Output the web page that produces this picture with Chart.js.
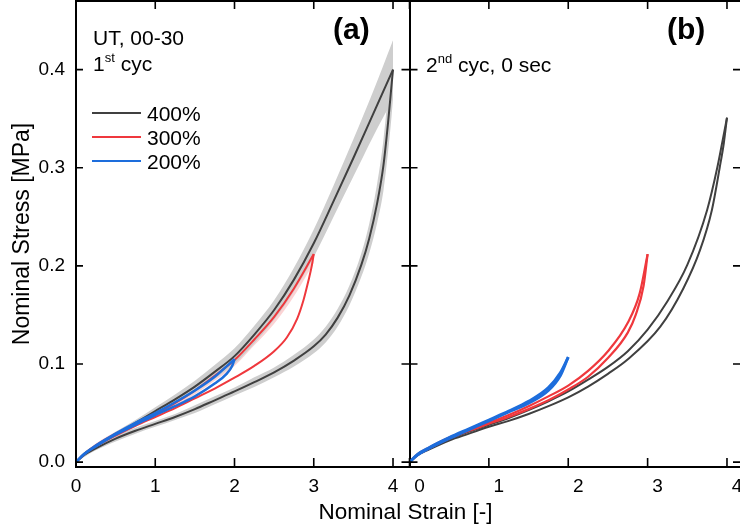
<!DOCTYPE html>
<html>
<head>
<meta charset="utf-8">
<script src="https://cdn.jsdelivr.net/npm/chart.js@4"></script>
<style>
html, body { margin: 0; padding: 0; background: #fff; overflow: hidden; }
#wrap { position: relative; width: 740px; height: 531px; }
#chartA { position: absolute; left: 0; top: 0; }
#chartB { position: absolute; left: 400px; top: 0; }
</style>
</head>
<body>
<div id="wrap">
<canvas id="chartA" width="740" height="531"></canvas>
<canvas id="chartB" width="340" height="531"></canvas>
</div>
<script>
// ---- data (nominal strain [-], nominal stress [MPa]) ----
const seriesLabels = ['400%', '300%', '200%'];
const xTickValues = [0, 1, 2, 3, 4];
const yTickValues = [0, 0.1, 0.2, 0.3, 0.4];

// (a) 1st cycle, mean curves + scatter band
const a400LoadStrain = [0, 0.1, 0.25, 0.5, 0.75, 1.0, 1.25, 1.5, 1.75, 2.0, 2.25, 2.5, 2.75, 3.0, 3.25, 3.5, 3.75, 4.0];
const a400LoadStress = [0, 0.008, 0.016, 0.028, 0.040, 0.052, 0.064, 0.077, 0.092, 0.108, 0.130, 0.155, 0.186, 0.223, 0.266, 0.310, 0.355, 0.400];
const a400LoadHi     = [0.001, 0.010, 0.018, 0.031, 0.043, 0.056, 0.069, 0.083, 0.099, 0.116, 0.139, 0.165, 0.198, 0.237, 0.282, 0.329, 0.378, 0.430];
const a400LoadLo     = [0, 0.006, 0.014, 0.025, 0.037, 0.048, 0.059, 0.071, 0.085, 0.100, 0.121, 0.145, 0.174, 0.209, 0.250, 0.291, 0.332, 0.370];

const a400UnloadStrain = [0, 0.1, 0.25, 0.5, 0.75, 1.0, 1.25, 1.5, 1.75, 2.0, 2.25, 2.5, 2.75, 3.0, 3.15, 3.3, 3.45, 3.6, 3.7, 3.8, 3.88, 3.94, 3.98, 4.0];
const a400UnloadStress = [0, 0.007, 0.014, 0.024, 0.032, 0.039, 0.046, 0.054, 0.063, 0.072, 0.0815, 0.0915, 0.1035, 0.118, 0.130, 0.147, 0.170, 0.201, 0.228, 0.264, 0.303, 0.348, 0.383, 0.400];
const a400UnloadHi     = [0.001, 0.009, 0.016, 0.027, 0.035, 0.042, 0.049, 0.058, 0.067, 0.076, 0.0865, 0.0965, 0.1095, 0.125, 0.138, 0.156, 0.180, 0.213, 0.243, 0.284, 0.329, 0.378, 0.415, 0.430];
const a400UnloadLo     = [0, 0.005, 0.012, 0.021, 0.029, 0.036, 0.043, 0.050, 0.059, 0.068, 0.0765, 0.0865, 0.0975, 0.111, 0.122, 0.138, 0.160, 0.189, 0.213, 0.244, 0.277, 0.318, 0.351, 0.370];

const a300LoadStrain = [0, 0.1, 0.25, 0.5, 0.75, 1.0, 1.25, 1.5, 1.75, 2.0, 2.25, 2.5, 2.75, 3.0];
const a300LoadStress = [0, 0.008, 0.017, 0.029, 0.039, 0.049, 0.060, 0.073, 0.088, 0.104, 0.125, 0.148, 0.177, 0.212];
const a300LoadHi     = [0.001, 0.009, 0.019, 0.031, 0.042, 0.052, 0.064, 0.077, 0.093, 0.110, 0.131, 0.155, 0.185, 0.221];
const a300LoadLo     = [0, 0.007, 0.015, 0.027, 0.036, 0.046, 0.056, 0.069, 0.083, 0.098, 0.119, 0.141, 0.169, 0.203];
const a300UnloadStrain = [0, 0.1, 0.25, 0.5, 0.75, 1.0, 1.25, 1.5, 1.75, 2.0, 2.25, 2.5, 2.66, 2.79, 2.87, 2.93, 2.975, 3.0];
const a300UnloadStress = [0, 0.008, 0.016, 0.027, 0.037, 0.046, 0.055, 0.065, 0.075, 0.086, 0.098, 0.113, 0.127, 0.146, 0.165, 0.184, 0.200, 0.212];

const a200LoadStrain = [0, 0.1, 0.25, 0.5, 0.75, 1.0, 1.25, 1.5, 1.75, 2.0];
const a200LoadStress = [0, 0.008, 0.017, 0.029, 0.040, 0.050, 0.061, 0.073, 0.087, 0.105];
const a200UnloadStrain = [0, 0.1, 0.25, 0.5, 0.75, 1.0, 1.25, 1.5, 1.75, 1.9, 1.97, 2.0];
const a200UnloadStress = [0, 0.008, 0.016, 0.028, 0.038, 0.048, 0.057, 0.067, 0.080, 0.090, 0.098, 0.105];

// (b) 2nd cycle, 0 sec
const b400LoadStrain = [0, 0.1, 0.25, 0.5, 0.75, 1.0, 1.25, 1.5, 1.75, 2.0, 2.25, 2.5, 2.75, 3.0, 3.25, 3.5, 3.75, 3.88, 3.95, 4.0];
const b400LoadStress = [0, 0.007, 0.014, 0.023, 0.031, 0.038, 0.045, 0.053, 0.062, 0.072, 0.084, 0.097, 0.113, 0.135, 0.164, 0.201, 0.257, 0.301, 0.330, 0.351];
const b400UnloadStrain = [0, 0.1, 0.25, 0.5, 0.75, 1.0, 1.25, 1.5, 1.75, 2.0, 2.25, 2.5, 2.74, 3.16, 3.45, 3.66, 3.81, 3.91, 3.96, 4.0];
const b400UnloadStress = [0, 0.007, 0.013, 0.022, 0.029, 0.036, 0.042, 0.049, 0.057, 0.066, 0.077, 0.090, 0.104, 0.138, 0.177, 0.216, 0.257, 0.301, 0.325, 0.351];

const b300LoadStrain = [0, 0.1, 0.25, 0.5, 0.75, 1.0, 1.25, 1.5, 1.75, 2.0, 2.25, 2.5, 2.75, 2.9, 3.0];
const b300LoadStress = [0, 0.008, 0.015, 0.025, 0.033, 0.040, 0.048, 0.057, 0.067, 0.078, 0.093, 0.113, 0.142, 0.172, 0.212];
const b300UnloadStrain = [0, 0.1, 0.25, 0.5, 0.75, 1.0, 1.25, 1.5, 1.75, 2.0, 2.25, 2.5, 2.75, 2.85, 2.95, 3.0];
const b300UnloadStress = [0, 0.007, 0.014, 0.024, 0.032, 0.039, 0.046, 0.054, 0.063, 0.074, 0.087, 0.106, 0.132, 0.150, 0.180, 0.212];

const b200LoadStrain = [0, 0.1, 0.25, 0.5, 0.75, 1.0, 1.25, 1.5, 1.75, 1.9, 2.0];
const b200LoadStress = [0, 0.008, 0.015, 0.025, 0.034, 0.043, 0.052, 0.062, 0.076, 0.091, 0.107];
const b200UnloadStrain = [0, 0.1, 0.25, 0.5, 0.75, 1.0, 1.25, 1.5, 1.75, 1.9, 2.0];
const b200UnloadStress = [0, 0.007, 0.014, 0.024, 0.033, 0.042, 0.051, 0.060, 0.073, 0.088, 0.107];

// ---- styles ----
const FONT = "'Liberation Sans', Arial, Helvetica, sans-serif";
const seriesColors = ['#404040', '#ef383d', '#1d6ddc'];
const bandGrey = '#cecece';
const bandPink = 'rgba(239, 56, 61, 0.22)';

function pts(xs, ys) {
    return xs.map((x, i) => ({ x: x, y: ys[i] }));
}

function curve(xs, ys, color, width, order) {
    return {
        data: pts(xs, ys), borderColor: color, borderWidth: width,
        pointRadius: 0, fill: false, cubicInterpolationMode: 'monotone', order: order
    };
}

function band(xs, lo, hi, color) {
    return [
        { data: pts(xs, lo), borderWidth: 0, pointRadius: 0, fill: false, cubicInterpolationMode: 'monotone', order: 10 },
        { data: pts(xs, hi), borderWidth: 0, pointRadius: 0, fill: '-1', backgroundColor: color, cubicInterpolationMode: 'monotone', order: 10 }
    ];
}

function drawSup(ctx, x, y, base, sup, rest, size) {
    ctx.font = size + 'px ' + FONT;
    ctx.fillText(base, x, y);
    x += ctx.measureText(base).width;
    ctx.font = Math.round(size * 0.62) + 'px ' + FONT;
    ctx.fillText(sup, x, y - size * 0.44);
    x += ctx.measureText(sup).width;
    ctx.font = size + 'px ' + FONT;
    ctx.fillText(rest, x, y);
}

// inward ticks + top frame line
const frame = {
    id: 'frame',
    afterDatasetsDraw(chart, args, o) {
        const { ctx, chartArea: a } = chart;
        const sx = chart.scales.x, sy = chart.scales.y;
        ctx.save();
        ctx.strokeStyle = '#000';
        ctx.lineWidth = 2;
        ctx.beginPath();
        ctx.moveTo(a.left - 1, a.top);
        ctx.lineTo(a.right, a.top);
        ctx.stroke();
        ctx.lineWidth = 1.6;
        ctx.beginPath();
        xTickValues.forEach(v => {
            const px = sx.getPixelForValue(v);
            ctx.moveTo(px, a.bottom); ctx.lineTo(px, a.bottom - 9);
            ctx.moveTo(px, a.top); ctx.lineTo(px, a.top + 8);
        });
        yTickValues.forEach(v => {
            const py = sy.getPixelForValue(v);
            ctx.moveTo(a.left - o.leftOut, py); ctx.lineTo(a.left + o.leftIn, py);
            if (o.rightIn) { ctx.moveTo(a.right, py); ctx.lineTo(a.right - o.rightIn, py); }
        });
        ctx.stroke();
        ctx.restore();
    }
};

const notesA = {
    id: 'notesA',
    afterDraw(chart) {
        const ctx = chart.ctx;
        ctx.save();
        ctx.fillStyle = '#000';
        ctx.textBaseline = 'alphabetic';
        ctx.font = '21px ' + FONT;
        ctx.fillText('UT, 00-30', 93, 45);
        drawSup(ctx, 93, 71, '1', 'st', ' cyc', 21);
        seriesLabels.forEach((lab, i) => {
            const y = 113 + i * 24;
            ctx.strokeStyle = seriesColors[i];
            ctx.lineWidth = 2;
            ctx.beginPath(); ctx.moveTo(92, y); ctx.lineTo(141, y); ctx.stroke();
            ctx.font = '21px ' + FONT;
            ctx.fillText(lab, 147, y + 8);
        });
        ctx.font = 'bold 30px ' + FONT;
        ctx.fillText('(a)', 333, 39);
        ctx.font = '22.5px ' + FONT;
        ctx.textAlign = 'center';
        ctx.fillText('Nominal Strain [-]', 405.5, 519);
        ctx.restore();
    }
};

const notesB = {
    id: 'notesB',
    afterDraw(chart) {
        const ctx = chart.ctx;
        ctx.save();
        ctx.fillStyle = '#000';
        ctx.textBaseline = 'alphabetic';
        drawSup(ctx, 26, 72, '2', 'nd', ' cyc, 0 sec', 21);
        ctx.font = 'bold 30px ' + FONT;
        ctx.fillText('(b)', 267, 39);
        ctx.restore();
    }
};

function noPad(s) {
    s.paddingTop = 0; s.paddingBottom = 0; s.paddingLeft = 0; s.paddingRight = 0;
}

function axes(xMax, yWidth, showY, labelOffset) {
    const tickFont = { family: FONT, size: 19 };
    return {
        x: {
            type: 'linear', min: 0, max: xMax,
            afterBuildTicks: s => { s.ticks = xTickValues.map(v => ({ value: v })); },
            afterFit: s => { s.height = 64; noPad(s); },
            grid: { display: false, drawTicks: false },
            border: { display: true, color: '#000', width: 2 },
            ticks: { color: '#000', font: tickFont, padding: 8, labelOffset: labelOffset, maxRotation: 0, autoSkip: false, callback: v => String(v) }
        },
        y: {
            type: 'linear', min: -0.005, max: 0.47,
            afterBuildTicks: s => { s.ticks = yTickValues.map(v => ({ value: v })); },
            afterFit: s => { s.width = yWidth; noPad(s); },
            grid: { display: false, drawTicks: false },
            border: { display: true, color: '#000', width: 2 },
            ticks: { display: showY, color: '#000', font: tickFont, padding: 11, autoSkip: false, callback: v => v.toFixed(1) },
            title: { display: showY, text: 'Nominal Stress [MPa]', color: '#000', font: { family: FONT, size: 23 }, padding: { top: 9, bottom: 0 } }
        }
    };
}

const common = {
    responsive: false,
    animation: false,
    events: [],
    plugins: { legend: { display: false }, tooltip: { enabled: false } }
};

new Chart(document.getElementById('chartA'), {
    type: 'line',
    data: {
        datasets: [
            ...band(a400LoadStrain, a400LoadLo, a400LoadHi, bandGrey),
            ...band(a400UnloadStrain, a400UnloadLo, a400UnloadHi, bandGrey),
            ...band(a300LoadStrain, a300LoadLo, a300LoadHi, bandPink),
            curve(a400LoadStrain, a400LoadStress, seriesColors[0], 2, 3),
            curve(a400UnloadStrain, a400UnloadStress, seriesColors[0], 2, 3),
            curve(a300LoadStrain, a300LoadStress, seriesColors[1], 2, 2),
            curve(a300UnloadStrain, a300UnloadStress, seriesColors[1], 2, 2),
            curve(a200LoadStrain, a200LoadStress, seriesColors[2], 2.5, 1),
            curve(a200UnloadStrain, a200UnloadStress, seriesColors[2], 2.5, 1)
        ]
    },
    options: {
        ...common,
        layout: { autoPadding: false, padding: { left: 0, top: 1, right: 330.5, bottom: 0 } },
        scales: axes(4.208, 76, true, 0),
        plugins: { ...common.plugins, frame: { leftOut: 0, leftIn: 7, rightIn: 0 } }
    },
    plugins: [frame, notesA]
});

new Chart(document.getElementById('chartB'), {
    type: 'line',
    data: {
        datasets: [
            curve(b400LoadStrain, b400LoadStress, seriesColors[0], 2, 3),
            curve(b400UnloadStrain, b400UnloadStress, seriesColors[0], 2, 3),
            curve(b300LoadStrain, b300LoadStress, seriesColors[1], 2.2, 2),
            curve(b300UnloadStrain, b300UnloadStress, seriesColors[1], 2.2, 2),
            curve(b200LoadStrain, b200LoadStress, seriesColors[2], 2.8, 1),
            curve(b200UnloadStrain, b200UnloadStress, seriesColors[2], 2.8, 1)
        ]
    },
    options: {
        ...common,
        layout: { autoPadding: false, padding: { left: 0, top: 1, right: 0, bottom: 0 } },
        scales: axes(4.164, 9.5, false, 10),
        plugins: { ...common.plugins, frame: { leftOut: 8, leftIn: 8, rightIn: 7 } }
    },
    plugins: [frame, notesB]
});
</script>
</body>
</html>
